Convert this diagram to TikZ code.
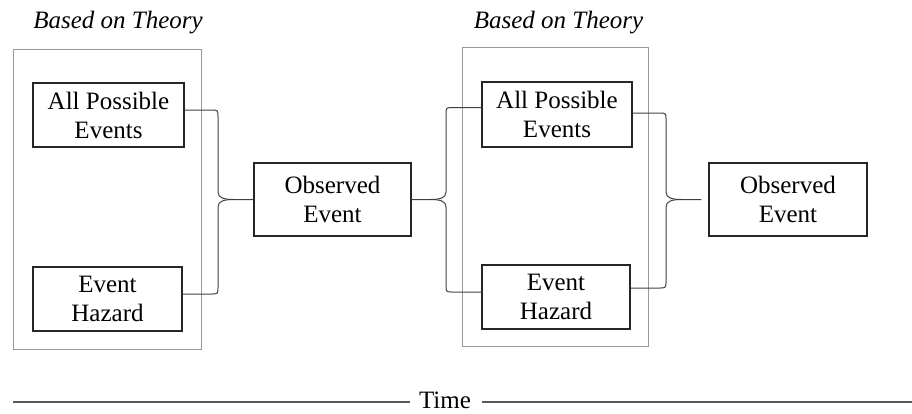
\documentclass[tikz,border=0pt]{standalone}
\usepackage{fontspec}
\setmainfont{Liberation Serif}
\begin{document}
\begin{tikzpicture}[x=1pt,y=-1pt,
  evbox/.style={draw=black!85, line width=1.1pt, align=center, inner sep=0pt,
    font=\fontsize{25}{29}\selectfont},
  group/.style={draw=black!40, line width=0.9pt},
  title/.style={anchor=base, font=\fontsize{25}{29}\selectfont\itshape},
  brace/.style={draw=black!75, line width=1pt},
  timeline/.style={draw=black!65, line width=1.3pt}]
\useasboundingbox (0,0) rectangle (912,413);

% theory groups
\node[group, minimum width=188pt, minimum height=300pt] (g1) at (107,199) {};
\node[group, minimum width=186pt, minimum height=299pt] (g2) at (555,196.5) {};
\node[title] (t1) at (118,28) {Based on Theory};
\node[title] (t2) at (558.5,28) {Based on Theory};

% event boxes
\node[evbox, minimum width=151pt, minimum height=64pt] (ape1) at (108.5,115) {All Possible\\Events};
\node[evbox, minimum width=149pt, minimum height=64pt] (eh1) at (107.5,299) {Event\\Hazard};
\node[evbox, minimum width=157pt, minimum height=73pt] (oe1) at (332.5,199.5) {Observed\\Event};
\node[evbox, minimum width=150pt, minimum height=65pt] (ape2) at (557,114.5) {All Possible\\Events};
\node[evbox, minimum width=148pt, minimum height=64pt] (eh2) at (556,297) {Event\\Hazard};
\node[evbox, minimum width=158pt, minimum height=73pt] (oe2) at (788,199.5) {Observed\\Event};

% brace joining the first group to the first observation
\draw[brace] ([yshift=5pt]ape1.east) -- (211,110) .. controls (218,110) .. (218,117)
  -- (218,192) .. controls (218,198) and (224,199.5) .. (234,199.5) -- (oe1.west);
\draw[brace] ([yshift=5pt]eh1.east) -- (211,294) .. controls (218,294) .. (218,287)
  -- (218,207) .. controls (218,201) and (224,199.5) .. (234,199.5);

% brace from the first observation into the second group
\draw[brace] ([yshift=7pt]ape2.west) -- (453,107.5) .. controls (446,107.5) .. (446,114.5)
  -- (446,192) .. controls (446,198) and (440,199.5) .. (430,199.5) -- (oe1.east);
\draw[brace] ([yshift=5pt]eh2.west) -- (453,292) .. controls (446,292) .. (446,285)
  -- (446,207) .. controls (446,201) and (440,199.5) .. (430,199.5);

% brace joining the second group to the second observation
\coordinate (tip2) at ([xshift=-7pt]oe2.west);
\draw[brace] ([yshift=1.5pt]ape2.east) -- (659,113) .. controls (666,113) .. (666,120)
  -- (666,192) .. controls (666,198) and (672,199.5) .. (682,199.5) -- (tip2);
\draw[brace] ([yshift=9pt]eh2.east) -- (659,288) .. controls (666,288) .. (666,281)
  -- (666,207) .. controls (666,201) and (672,199.5) .. (682,199.5);

% time axis
\node[anchor=base, font=\fontsize{25}{29}\selectfont, inner sep=0pt] (time) at (445,408) {Time};
\coordinate (tl) at (13,402);
\coordinate (tr) at (912,402);
\draw[timeline] (tl) -- ([xshift=-9pt]time.west |- tl);
\draw[timeline] ([xshift=11pt]time.east |- tr) -- (tr);
\end{tikzpicture}
\end{document}
